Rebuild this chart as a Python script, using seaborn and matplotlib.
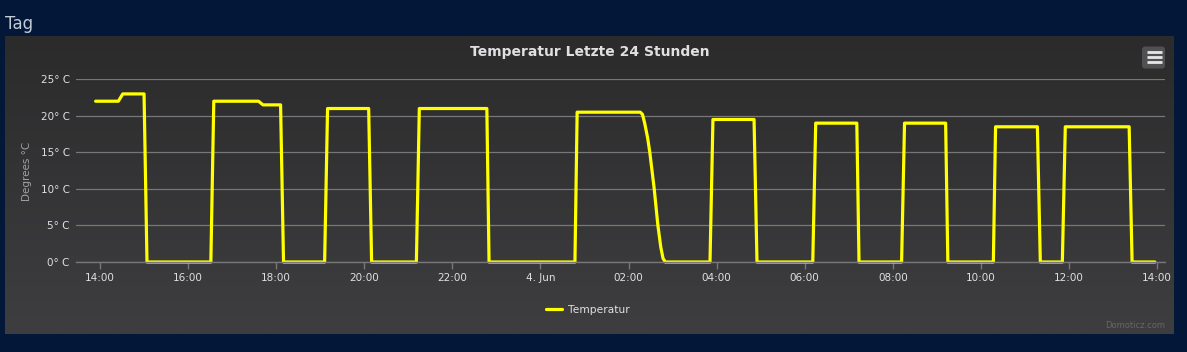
import matplotlib
matplotlib.use("Agg")
import matplotlib.pyplot as plt
import matplotlib.dates as mdates
import numpy as np
import pandas as pd
import seaborn as sns
from matplotlib.colors import LinearSegmentedColormap
from matplotlib.patches import FancyBboxPatch
from matplotlib.ticker import FuncFormatter

# data (3./4. June)
times = [
    "2021-06-03 13:54", "2021-06-03 14:25", "2021-06-03 14:31", "2021-06-03 15:00",
    "2021-06-03 15:04", "2021-06-03 16:31", "2021-06-03 16:35", "2021-06-03 17:36",
    "2021-06-03 17:42", "2021-06-03 18:06", "2021-06-03 18:10", "2021-06-03 19:06",
    "2021-06-03 19:10", "2021-06-03 20:06", "2021-06-03 20:10", "2021-06-03 21:11",
    "2021-06-03 21:15", "2021-06-03 22:47", "2021-06-03 22:50", "2021-06-04 00:47",
    "2021-06-04 00:50", "2021-06-04 02:16", "2021-06-04 02:19", "2021-06-04 02:22",
    "2021-06-04 02:26", "2021-06-04 02:29", "2021-06-04 02:35", "2021-06-04 02:40",
    "2021-06-04 02:44", "2021-06-04 02:47", "2021-06-04 02:50", "2021-06-04 03:51",
    "2021-06-04 03:55", "2021-06-04 04:51", "2021-06-04 04:55", "2021-06-04 06:11",
    "2021-06-04 06:15", "2021-06-04 07:11", "2021-06-04 07:14", "2021-06-04 08:12",
    "2021-06-04 08:16", "2021-06-04 09:12", "2021-06-04 09:15", "2021-06-04 10:17",
    "2021-06-04 10:20", "2021-06-04 11:17", "2021-06-04 11:21", "2021-06-04 11:51",
    "2021-06-04 11:55", "2021-06-04 13:22", "2021-06-04 13:26", "2021-06-04 13:57",
]
temps = [
    22, 22, 23, 23,
    0, 0, 22, 22,
    21.5, 21.5, 0, 0,
    21, 21, 0, 0,
    21, 21, 0, 0,
    20.5, 20.5, 20.2, 19,
    17, 15, 10, 5,
    2, 0.5, 0, 0,
    19.5, 19.5, 0, 0,
    19, 19, 0, 0,
    19, 19, 0, 0,
    18.5, 18.5, 0, 0,
    18.5, 18.5, 0, 0,
]
y_ticks = [0, 5, 10, 15, 20, 25]
x_tick_start = "2021-06-03 14:00"
x_tick_end = "2021-06-04 14:00"
x_min = "2021-06-03 13:27:18"
x_max = "2021-06-04 14:10:50"

title = "Temperatur Letzte 24 Stunden"
series_name = "Temperatur"

page_bg = "#031739"
text_col = "#E0E0E3"
grid_col = "#77777a"
line_col = "#ffff00"

W, H = 1187, 352

sns.set_theme(style="dark")
plt.rcParams["font.family"] = ["DejaVu Sans"]

df = pd.DataFrame({"time": pd.to_datetime(times), "temp": temps})

fig = plt.figure(figsize=(W / 100, H / 100), dpi=100, facecolor=page_bg)

# chart panel with a soft vertical gradient
panel = fig.add_axes([5 / W, 1 - 334 / H, 1169 / W, 298 / H])
grad = np.linspace(0, 1, 256).reshape(-1, 1)
panel_cmap = LinearSegmentedColormap.from_list("panel", ["#2b2b2c", "#3e3e40"])
panel.imshow(grad, aspect="auto", cmap=panel_cmap, extent=[0, 1, 0, 1], origin="upper")
panel.axis("off")

ax = fig.add_axes([76 / W, 1 - 262 / H, (1165 - 76) / W, (262 - 79.3) / H])
ax.set_facecolor("none")

sns.lineplot(data=df, x="time", y="temp", color=line_col, linewidth=2.3,
             ax=ax, label=series_name, clip_on=False)

ax.set_xlim(pd.Timestamp(x_min), pd.Timestamp(x_max))
ax.set_ylim(0, 25)
ax.set_yticks(y_ticks)
ax.set_yticklabels([f"{v}° C" for v in y_ticks])
ax.set_xticks(pd.date_range(x_tick_start, x_tick_end, freq="2h"))


def fmt_time(x, pos):
    d = mdates.num2date(x)
    if d.hour == 0 and d.minute == 0:
        return f"{d.day}. {d.strftime('%b')}"
    return d.strftime("%H:%M")


ax.xaxis.set_major_formatter(FuncFormatter(fmt_time))

ax.grid(axis="y", color=grid_col, linewidth=0.9)
ax.grid(axis="x", visible=False)
for side in ["top", "right", "left"]:
    ax.spines[side].set_visible(False)
ax.spines["bottom"].set_color(grid_col)
ax.spines["bottom"].set_linewidth(1)

ax.tick_params(axis="y", length=0, pad=4.5, labelcolor=text_col, labelsize=7.5)
ax.tick_params(axis="x", length=5, width=1, color=grid_col, direction="out",
               pad=3, labelcolor=text_col, labelsize=7.5, bottom=True)
ax.set_xlabel("")
ax.set_ylabel("")

fig.text(27 / W, 1 - 171 / H, "Degrees °C", rotation=90, ha="center", va="center",
         color="#A0A0A3", fontsize=7.5)

fig.text(590 / W, 1 - 52 / H, title, ha="center", va="center",
         fontweight="bold", color=text_col, fontsize=10)

ax.legend(loc="center", bbox_to_anchor=(588 / W, 1 - 310 / H),
          bbox_transform=fig.transFigure, frameon=False, labelcolor=text_col,
          fontsize=7.7, handlelength=1.5, handletextpad=0.5)

fig.text(1165 / W, 1 - 326 / H, "Domoticz.com", ha="right", va="center",
         color="#666666", fontsize=6)

fig.text(5 / W, 1 - 24 / H, "Tag", ha="left", va="center",
         color="#c4cad6", fontsize=12)

# context menu button
btn = FancyBboxPatch((11.42, (H - 68.5) / 100), 0.23, 0.22,
                     boxstyle="round,pad=0,rounding_size=0.03",
                     transform=fig.dpi_scale_trans, facecolor="#505053",
                     edgecolor="none")
fig.add_artist(btn)
for yy in [52.3, 57.3, 62.3]:
    fig.add_artist(plt.Line2D([1146.5 / W, 1161.5 / W], [1 - yy / H, 1 - yy / H],
                              transform=fig.transFigure, color="#e6e6e6",
                              linewidth=2, solid_capstyle="butt"))

fig.savefig("out.png", dpi=100, facecolor=page_bg)
